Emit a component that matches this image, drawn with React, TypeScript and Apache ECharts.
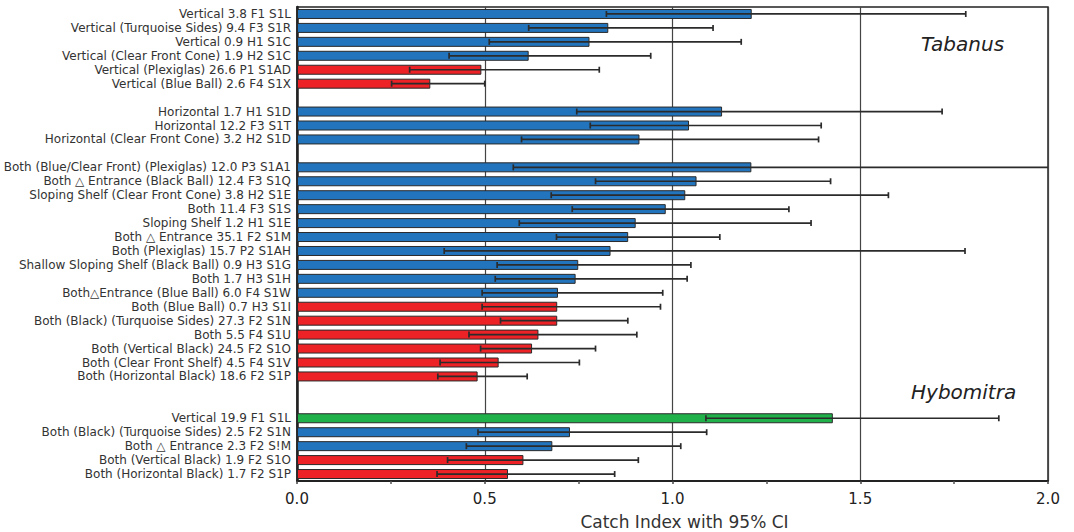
import React, { useEffect, useRef } from "react";
import * as echarts from "echarts";

// Row labels (gap rows are named gap1..gap4 and render blank)
const labels = [
  "Vertical 3.8 F1 S1L",
  "Vertical (Turquoise Sides) 9.4 F3 S1R",
  "Vertical 0.9 H1 S1C",
  "Vertical (Clear Front Cone) 1.9 H2 S1C",
  "Vertical (Plexiglas) 26.6 P1 S1AD",
  "Vertical (Blue Ball) 2.6 F4 S1X",
  "gap1",
  "Horizontal 1.7 H1 S1D",
  "Horizontal 12.2 F3 S1T",
  "Horizontal (Clear Front Cone) 3.2 H2 S1D",
  "gap2",
  "Both (Blue/Clear Front) (Plexiglas) 12.0 P3 S1A1",
  "Both \u25B3 Entrance (Black Ball) 12.4 F3 S1Q",
  "Sloping Shelf (Clear Front Cone) 3.8 H2 S1E",
  "Both 11.4 F3 S1S",
  "Sloping Shelf 1.2 H1 S1E",
  "Both \u25B3 Entrance 35.1 F2 S1M",
  "Both (Plexiglas) 15.7 P2 S1AH",
  "Shallow Sloping Shelf (Black Ball) 0.9 H3 S1G",
  "Both 1.7 H3 S1H",
  "Both\u25B3Entrance (Blue Ball) 6.0 F4 S1W",
  "Both (Blue Ball) 0.7 H3 S1I",
  "Both (Black) (Turquoise Sides) 27.3 F2 S1N",
  "Both 5.5 F4 S1U",
  "Both (Vertical Black) 24.5 F2 S1O",
  "Both (Clear Front Shelf) 4.5 F4 S1V",
  "Both (Horizontal Black) 18.6 F2 S1P",
  "gap3",
  "gap4",
  "Vertical 19.9 F1 S1L",
  "Both (Black) (Turquoise Sides) 2.5 F2 S1N",
  "Both \u25B3 Entrance 2.3 F2 S!M",
  "Both (Vertical Black) 1.9 F2 S1O",
  "Both (Horizontal Black) 1.7 F2 S1P",
];

const means = [
  1.211, 0.829, 0.779, 0.617, 0.491, 0.355,
  null,
  1.132, 1.044, 0.912,
  null,
  1.21, 1.064, 1.034, 0.982, 0.902, 0.882, 0.835, 0.749, 0.742, 0.695,
  0.693, 0.693, 0.643, 0.626, 0.537, 0.481,
  null, null,
  1.427, 0.727, 0.68, 0.603, 0.562,
];

const lows = [
  0.824, 0.617, 0.512, 0.405, 0.3, 0.252,
  null,
  0.745, 0.781, 0.598,
  null,
  0.576, 0.795, 0.677, 0.733, 0.592, 0.691, 0.392, 0.533, 0.528, 0.493,
  0.493, 0.542, 0.458, 0.489, 0.381, 0.375,
  null, null,
  1.089, 0.482, 0.451, 0.401, 0.373,
];

const highs = [
  1.781, 1.108, 1.183, 0.942, 0.805, 0.5,
  null,
  1.718, 1.396, 1.389,
  null,
  2.2, 1.421, 1.575, 1.31, 1.369, 1.126, 1.779, 1.049, 1.039, 0.974,
  0.968, 0.881, 0.905, 0.795, 0.752, 0.613,
  null, null,
  1.869, 1.091, 1.022, 0.909, 0.846,
];

const groups = [
  "b", "b", "b", "b", "r", "r",
  "",
  "b", "b", "b",
  "",
  "b", "b", "b", "b", "b", "b", "b", "b", "b", "b",
  "r", "r", "r", "r", "r", "r",
  "", "",
  "g", "b", "b", "r", "r",
];

const xTicks = [0, 0.5, 1.0, 1.5, 2.0];

const palette: Record<string, string> = {
  b: "#2274bd",
  r: "#ec2227",
  g: "#20b14b",
};

const X_MAX = xTicks[xTicks.length - 1];

export default function App() {
  const ref = useRef<HTMLDivElement>(null);

  useEffect(() => {
    if (!ref.current) return;
    const chart = echarts.init(ref.current, undefined, { renderer: "svg" });

    const barData = means.map((v, i) =>
      v == null
        ? "-"
        : { value: v, itemStyle: { color: palette[groups[i]] } }
    );
    const errData: number[][] = [];
    means.forEach((v, i) => {
      if (v != null && lows[i] != null && highs[i] != null) {
        errData.push([i, lows[i] as number, highs[i] as number]);
      }
    });

    const option: any = {
      animation: false,
      textStyle: { fontFamily: "DejaVu Sans" },
      grid: {
        left: 297,
        right: 26,
        top: 7,
        bottom: 51,
        containLabel: false,
        outerBoundsMode: "none",
        show: true,
        borderColor: "#222",
        borderWidth: 1.5,
        backgroundColor: "transparent",
      },
      xAxis: {
        type: "value",
        min: 0,
        max: X_MAX,
        interval: 0.5,
        name: "Catch Index with 95% CI",
        nameLocation: "middle",
        nameGap: 32,
        nameTextStyle: {
          fontSize: 17,
          color: "#333",
          fontFamily: "DejaVu Sans",
          padding: [0, 0, 0, 24],
        },
        axisLine: { show: true, lineStyle: { color: "#222", width: 2 } },
        axisTick: { show: true, inside: false, length: 3, lineStyle: { color: "#444", width: 1.5 } },
        minorTick: { show: true, splitNumber: 2, length: 3, lineStyle: { color: "#555", width: 1.5 } },
        axisLabel: {
          fontSize: 15,
          color: "#222",
          margin: 10,
          fontFamily: "DejaVu Sans",
          formatter: (v: number) => v.toFixed(1),
        },
        splitLine: { show: true, lineStyle: { color: "#444", width: 1.2 } },
      },
      yAxis: {
        type: "category",
        inverse: true,
        data: labels,
        axisLine: { show: true, lineStyle: { color: "#222", width: 2.5 } },
        axisTick: { show: false },
        splitLine: { show: false },
        axisLabel: {
          interval: 0,
          fontSize: 12,
          color: "#333",
          margin: 6,
          fontFamily: "DejaVu Sans",
          formatter: (v: string) => (v.startsWith("gap") ? "" : v),
        },
      },
      series: [
        {
          type: "bar",
          data: barData,
          barWidth: 10,
          itemStyle: { borderColor: "#2a2a2a", borderWidth: 1 },
          z: 2,
        },
        {
          type: "custom",
          data: errData,
          encode: { x: [1, 2], y: 0 },
          z: 3,
          renderItem: (params: any, api: any) => {
            const cat = api.value(0);
            const lo = api.value(1);
            const hi = api.value(2);
            const clipped = hi > X_MAX;
            const p1 = api.coord([lo, cat]);
            const p2 = api.coord([Math.min(hi, X_MAX), cat]);
            const style = { stroke: "#2b2b2b", lineWidth: 1.7 };
            const children: any[] = [
              { type: "line", shape: { x1: p1[0], y1: p1[1], x2: p2[0], y2: p2[1] }, style },
              { type: "line", shape: { x1: p1[0], y1: p1[1] - 3, x2: p1[0], y2: p1[1] + 3 }, style },
            ];
            if (!clipped) {
              children.push({
                type: "line",
                shape: { x1: p2[0], y1: p2[1] - 3, x2: p2[0], y2: p2[1] + 3 },
                style,
              });
            }
            return { type: "group", children };
          },
        },
      ],
      graphic: [
        {
          type: "text",
          left: 921,
          top: 34,
          style: {
            text: "Tabanus",
            fontSize: 20,
            fontStyle: "italic",
            fontFamily: "DejaVu Sans",
            fill: "#222",
          },
        },
        {
          type: "text",
          left: 911,
          top: 382,
          style: {
            text: "Hybomitra",
            fontSize: 20,
            fontStyle: "italic",
            fontFamily: "DejaVu Sans",
            fill: "#222",
          },
        },
      ],
    };

    chart.setOption(option);
    return () => chart.dispose();
  }, []);

  return <div ref={ref} style={{ width: 1074, height: 532, position: "absolute", left: 0, top: 0 }} />;
}
